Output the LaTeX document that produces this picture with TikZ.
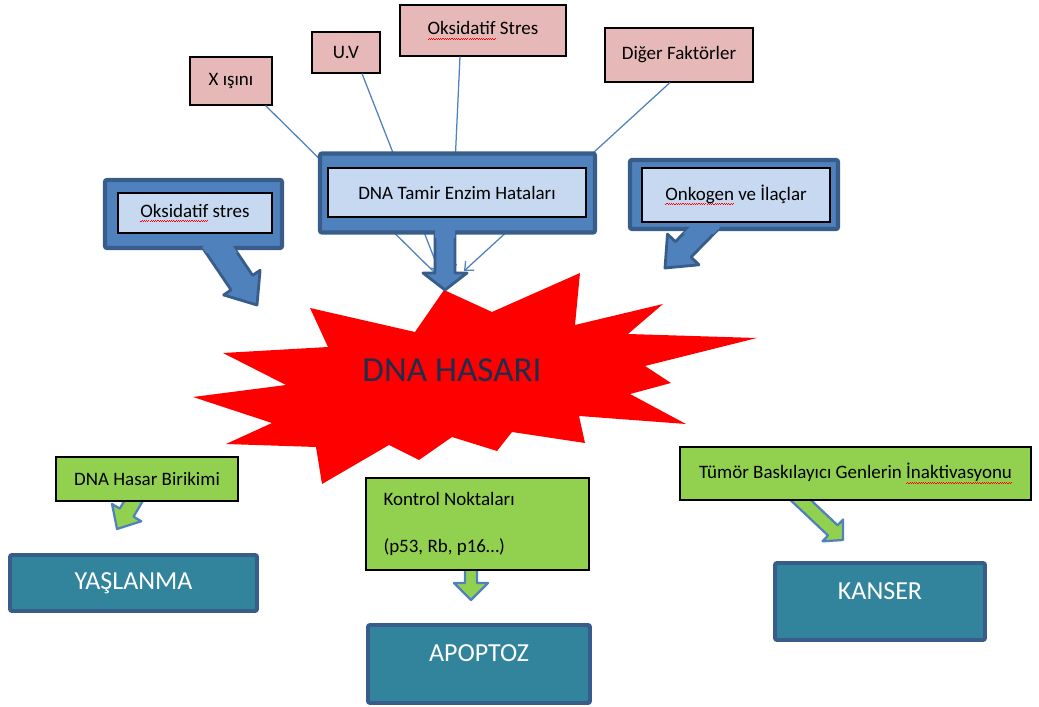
\documentclass[tikz,border=0pt]{standalone}
\usepackage{fontspec}
\setmainfont{Carlito}
\usetikzlibrary{calc,arrows.meta}

\definecolor{pembe}{HTML}{E6B9B8}
\definecolor{mavi}{HTML}{4F81BD}
\definecolor{koyumavi}{HTML}{385D8A}
\definecolor{acikmavi}{HTML}{C6D9F1}
\definecolor{yesil}{HTML}{92D050}
\definecolor{petrol}{HTML}{31849B}
\definecolor{yazi}{HTML}{1F2D4A}

% kirmizi dalgali alt cizgi
\newcommand{\dalgaparca}{\hbox{\rule{0.8pt}{0.5pt}\raisebox{0.7pt}{\rule{0.8pt}{0.5pt}}}}
\newcommand{\dalga}[1]{\setbox0\hbox{#1}\rlap{\raisebox{-3.2pt}{\hbox to \wd0{\color{red}\xleaders\dalgaparca\hfill}}}\box0\relax}

\def\px{0.025cm}
% blok ok: #1 stil, #2 baslangic, #3 uc, #4 govde yari genislik, #5 bas yari genislik, #6 bas boyu
\newcommand{\blokok}[6]{%
  \coordinate (bh) at ($(#3)!#6*\px!(#2)$);
  \path[#1] ($(#2)!#4*\px!90:(#3)$) -- ($(bh)!#4*\px!90:(#3)$) -- ($(bh)!#5*\px!90:(#3)$)
    -- (#3) -- ($(bh)!#5*\px!-90:(#3)$) -- ($(bh)!#4*\px!-90:(#3)$) -- ($(#2)!#4*\px!-90:(#3)$) -- cycle;
}

\tikzset{
  kutu/.style 2 args={minimum width=#1*\px, minimum height=#2*\px, inner sep=0pt},
  kucuk/.style={font=\fontsize{13.5}{16}\selectfont},
  pembekutu/.style={kucuk, draw=black, line width=0.8pt, fill=pembe},
  dis/.style={draw=koyumavi, line width=3pt, fill=mavi, rounded corners=1.5pt},
  ic/.style={kucuk, draw=black, line width=1pt, fill=acikmavi},
  cagriok/.style={draw=koyumavi, line width=2pt, fill=mavi, line join=round},
  yesilkutu/.style={kucuk, draw=black, line width=1pt, fill=yesil},
  yesilok/.style={draw=mavi, line width=1.6pt, fill=yesil, line join=round},
  sonkutu/.style={draw=koyumavi, line width=2.8pt, fill=petrol, rounded corners=1.5pt, text=white,
    font=\fontsize{18.5}{22}\selectfont},
  ince/.style={mavi, line width=0.9pt, -{Straight Barb[length=5pt,width=9pt]}}
}

\begin{document}
\begin{tikzpicture}[x=0.025cm, y=-0.025cm]
\useasboundingbox (0,0) rectangle (1039,707);

%yildiz
\fill[red] (444,290) -- (492,312) -- (580,273) -- (575,325) -- (663,304) -- (628,334)
  -- (757,338) -- (645,366) -- (671,383) -- (630,394) -- (686,424) -- (579,416)
  -- (585,443) -- (512,432) -- (497,451) -- (452,437) -- (419,460) -- (389,445)
  -- (322,484) -- (316,447) -- (226,444) -- (272,423) -- (193,397) -- (286,385)
  -- (223,353) -- (328,347) -- (310,308) -- (415,332) -- cycle;
\node[text=yazi, font=\fontsize{25}{30}\selectfont] (hasar) at (452,370) {DNA HASARI};

%ust faktorler
\node[pembekutu, kutu={82}{48}] (xr) at (231,81) {X ışını};
\node[pembekutu, kutu={68}{41}] (uv) at (346,52.5) {U.V};
\node[pembekutu, kutu={166}{51}] (oksstres) at (483,30.5) {\dalga{Oksidatif} Stres};
\node[pembekutu, kutu={148}{54}] (diger) at (679,55) {Diğer Faktörler};

\coordinate (u1) at (436,274);
\coordinate (u2) at (440,273);
\coordinate (u3) at (450,272);
\coordinate (u4) at (464,271);
\draw[ince] ($(xr.south east)+(-7,0)$) -- (u1);
\draw[ince] ($(uv.south)+(16,0)$) -- (u2);
\draw[ince] ($(oksstres.south)+(-23,0)$) -- (u3);
\draw[ince] ($(diger.south)+(-9,0)$) -- (u4);

%sol cagri
\blokok{cagriok}{213,240}{257,305}{13}{22}{27}
\node[dis, kutu={177}{68}] (oksd) at (193.5,214) {};
\begin{scope}
\clip ($(oksd.south west)+(0,-6)$) rectangle ($(oksd.south east)+(0,2.5)$);
\blokok{fill=mavi}{213,240}{257,305}{13}{22}{27}
\end{scope}
\node[ic, kutu={154}{40}] (oks) at (195,213) {\dalga{Oksidatif} stres};

%orta cagri
\blokok{cagriok}{445,222}{445,290}{10}{22}{17}
\node[dis, kutu={275}{79}] (tamird) at (457.5,193) {};
\begin{scope}
\clip ($(tamird.south west)+(0,-6)$) rectangle ($(tamird.south east)+(0,2.5)$);
\blokok{fill=mavi}{445,222}{445,290}{10}{22}{17}
\end{scope}
\node[ic, kutu={258}{49}] (tamir) at (457,192.5) {DNA Tamir Enzim Hataları};

%sag cagri
\blokok{cagriok}{712,220}{665,268}{11}{22}{26}
\node[dis, kutu={208}{69}] (onkd) at (734,194.5) {};
\begin{scope}
\clip ($(onkd.south west)+(0,-6)$) rectangle ($(onkd.south east)+(0,2.5)$);
\blokok{fill=mavi}{712,220}{665,268}{11}{22}{26}
\end{scope}
\node[ic, kutu={188}{54}] (onk) at (736,195) {\dalga{Onkogen} ve İlaçlar};

%alt oklar
\blokok{yesilok}{140,490}{117,529}{8}{17}{19}
\blokok{yesilok}{471,566}{471,600}{6}{17}{17}
\blokok{yesilok}{790,490}{843,540}{7}{15}{14}

%alt kutular
\node[yesilkutu, kutu={182}{44}] (birikim) at (147,479) {DNA Hasar Birikimi};
\node[yesilkutu, kutu={223}{92}, text width=188*\px, align=flush left] (kontrol) at (477.5,524)
  {Kontrol Noktaları\\[18pt](p53, Rb, p16…)};
\node[yesilkutu, kutu={351}{53}] (tumor) at (855.5,473.5) {Tümör Baskılayıcı Genlerin \dalga{İnaktivasyonu}};

\node[sonkutu, kutu={247}{56}] (yaslanma) at (133.5,583) {YAŞLANMA};
\node[sonkutu, kutu={222}{78}, text height=11.6pt, text depth=15pt] (apoptoz) at (479,664) {APOPTOZ};
\node[sonkutu, kutu={210}{77}, text height=11.6pt, text depth=14pt] (kanser) at (880,601.5) {KANSER};
\end{tikzpicture}
\end{document}
